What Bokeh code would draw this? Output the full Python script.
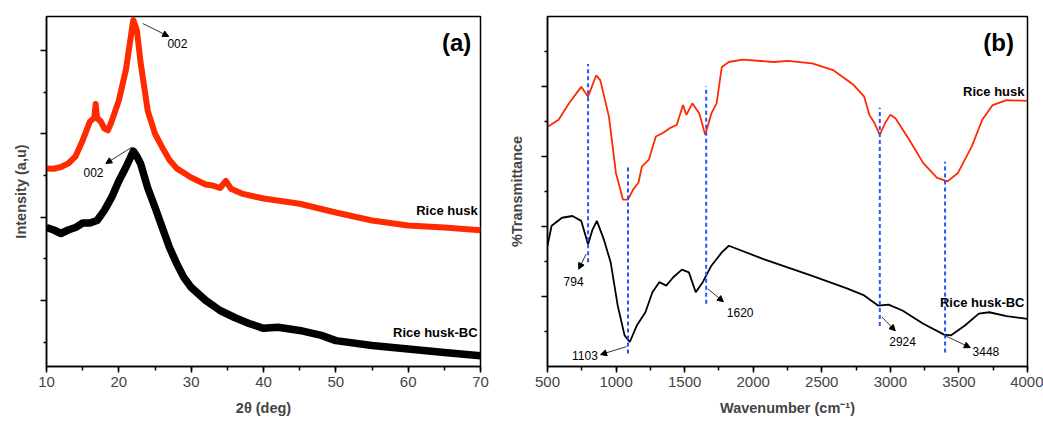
from bokeh.plotting import figure
from bokeh.models import (Range1d, FixedTicker, SingleIntervalTicker, ColumnDataSource, Arrow,
                          NormalHead, CustomJSTickFormatter)
from bokeh.layouts import row
from bokeh.core.properties import value
from bokeh.embed import file_html
from bokeh.resources import INLINE

FONT = "Liberation Sans"
RED = "#ff2a00"
BLUE = "#2255ff"

# ---------------- (a) XRD data ----------------
xrd_theta_rh = [10, 11, 12, 13, 14, 15, 16, 16.6, 16.8, 17.0, 17.5, 18, 18.5, 19, 20, 21, 21.5, 22,
                22.5, 23, 24, 25, 26, 27, 28, 30, 32, 33, 34, 34.8, 35.5, 37, 40, 45, 50, 55, 60, 65, 70]
xrd_int_rh = [56.6, 56.5, 57.0, 58.0, 60.0, 64.6, 70.0, 71.0, 75.0, 71.0, 70.0, 68.0, 67.5, 70.0, 76.0,
              85.0, 92.0, 99.0, 96.0, 87.0, 73.0, 66.5, 62.6, 59.0, 56.6, 54.0, 52.0, 51.7, 51.0, 53.0,
              50.8, 49.4, 48.0, 46.5, 44.0, 41.7, 40.3, 39.7, 38.9]
xrd_theta_bc = [10, 11, 12, 13, 14, 15, 16, 17, 18, 19, 20, 21, 22, 22.5, 23, 24, 25, 26, 27, 28, 29,
                30, 32, 34, 36, 38, 40, 42, 45, 48, 50, 55, 60, 65, 70]
xrd_int_bc = [39.7, 39.0, 38.0, 39.0, 39.7, 41.0, 41.0, 41.7, 44.6, 48.3, 53.0, 57.0, 61.5, 60.0, 58.0,
              51.0, 45.5, 39.7, 34.0, 29.4, 25.4, 22.6, 18.9, 16.0, 14.0, 12.3, 10.9, 11.2, 10.3, 8.9,
              7.4, 6.0, 5.0, 4.0, 3.1]
xrd_labels = ["002", "002"]
xrd_label_x = [28.1, 16.5]
xrd_label_y = [92.3, 55.4]
xrd_arrow_x0 = [23.3, 21.75]
xrd_arrow_y0 = [98.0, 62.6]
xrd_arrow_x1 = [26.9, 18.2]
xrd_arrow_y1 = [94.3, 58.0]
xrd_series_names = ["Rice husk", "Rice husk-BC"]
xrd_name_x = [69.6, 69.6]
xrd_name_y = [44.6, 9.7]
xrd_yticks = [18.9, 42.7, 66.5, 90.3]
xrd_yminor = [7.0, 30.8, 54.6, 78.4]

# ---------------- (b) FTIR data ----------------
ftir_wn_rh = [505, 581, 657, 746, 796, 855, 885, 948, 999, 1050, 1087, 1125, 1163, 1189, 1239, 1290,
              1341, 1391, 1442, 1488, 1513, 1556, 1607, 1650, 1695, 1733, 1771, 1822, 1923, 2151, 2252,
              2430, 2582, 2733, 2809, 2847, 2885, 2923, 2961, 2999, 3037, 3138, 3240, 3341, 3417, 3493,
              3594, 3670, 3746, 3847, 4000]
ftir_t_rh = [68.6, 70.5, 75.2, 79.9, 77.1, 83.2, 81.8, 71.4, 55.3, 47.7, 47.7, 50.6, 52.5, 57.2, 59.1,
             65.7, 66.7, 68.1, 69.0, 74.7, 71.9, 75.2, 72.3, 66.2, 72.3, 75.2, 85.6, 87.0, 87.7, 87.0,
             87.3, 86.6, 84.7, 80.4, 77.1, 71.9, 69.5, 66.2, 69.5, 71.9, 70.9, 64.8, 58.1, 53.9, 52.9,
             55.3, 62.9, 70.5, 74.7, 76.1, 75.9]
ftir_wn_bc = [500, 530, 606, 682, 746, 796, 829, 860, 910, 961, 1012, 1062, 1100, 1151, 1214, 1265,
              1315, 1366, 1417, 1480, 1531, 1581, 1632, 1695, 1771, 1822, 2075, 2430, 2683, 2809, 2910,
              2987, 3088, 3240, 3392, 3443, 3544, 3645, 3721, 3847, 4000]
ftir_t_bc = [34.5, 40.2, 42.5, 43.0, 41.6, 34.9, 39.2, 41.6, 36.4, 29.7, 17.4, 8.9, 7.0, 11.7, 15.5,
             21.2, 24.1, 23.1, 25.5, 27.7, 26.9, 21.2, 24.1, 28.8, 32.6, 34.5, 30.7, 25.9, 22.3, 20.3,
             17.4, 17.7, 16.0, 12.2, 9.1, 8.9, 11.7, 15.1, 15.5, 14.4, 13.6]
ftir_peak_wn = [796, 1087, 1657, 2923, 3399]
ftir_peak_top = [86.4, 57.1, 80.1, 73.9, 58.5]
ftir_peak_bot = [29.8, 3.7, 17.9, 11.6, 4.0]
ftir_labels = ["794", "1103", "1620", "2924", "3448"]
ftir_label_x = [690, 773, 1905, 3089, 3697]
ftir_label_y = [24.4, 3.1, 15.3, 7.1, 4.3]
ftir_arrow_x0 = [781, 1077, 1669, 2937, 3400]
ftir_arrow_y0 = [32.1, 5.7, 22.2, 14.2, 8.8]
ftir_arrow_x1 = [728, 887, 1783, 3036, 3583]
ftir_arrow_y1 = [27.8, 3.4, 18.5, 10.2, 5.4]
ftir_series_names = ["Rice husk", "Rice husk-BC"]
ftir_name_x = [3978, 3978]
ftir_name_y = [78.7, 18.2]
ftir_yticks = [20, 40, 60, 80]
ftir_yminor = [10, 30, 50, 70, 90]


def style(p, xlabel, ylabel):
    p.outline_line_color = "black"
    p.outline_line_width = 1.5
    p.grid.visible = False
    p.background_fill_color = "white"
    p.border_fill_color = "white"
    for ax in (p.xaxis, p.yaxis):
        ax.axis_line_width = 1.5
        ax.major_tick_line_width = 1.5
        ax.minor_tick_line_width = 1.5
        ax.major_tick_in = 0
        ax.minor_tick_in = 0
        ax.axis_label_text_font = FONT
        ax.axis_label_text_font_style = "bold"
        ax.axis_label_text_font_size = "14.5px"
        ax.major_label_text_font = FONT
        ax.major_label_text_font_size = "15px"
    p.xaxis.axis_label = xlabel
    p.yaxis.axis_label = ylabel
    p.xaxis.major_tick_out = 6
    p.xaxis.minor_tick_out = 4
    p.yaxis.major_tick_out = 6
    p.yaxis.minor_tick_out = 3
    p.xaxis.major_label_standoff = 4
    p.xaxis.axis_label_standoff = 10
    p.yaxis.formatter = CustomJSTickFormatter(code="return ''")
    p.yaxis.major_label_standoff = 0


# ---------------- figure (a) ----------------
pa = figure(width=500, height=424, output_backend="svg", toolbar_location=None,
            x_range=Range1d(10, 70), y_range=Range1d(0, 100),
            min_border_left=46, min_border_right=20, min_border_top=16, min_border_bottom=58)
style(pa, "2θ (deg)", "Intensity (a,u)")
pa.xaxis.ticker = SingleIntervalTicker(interval=10, num_minor_ticks=2)
pa.yaxis.ticker = FixedTicker(ticks=xrd_yticks, minor_ticks=xrd_yminor)
pa.yaxis.axis_label_standoff = 12

pa.line(xrd_theta_bc, xrd_int_bc, line_color="black", line_width=7.5, line_join="round")
pa.line(xrd_theta_rh, xrd_int_rh, line_color=RED, line_width=6, line_join="round")

pa.add_layout(Arrow(end=NormalHead(size=6, fill_color="black", line_color="black", line_width=1),
                    line_width=0.8, line_color="black",
                    source=ColumnDataSource(dict(x0=xrd_arrow_x0, y0=xrd_arrow_y0,
                                                 x1=xrd_arrow_x1, y1=xrd_arrow_y1)),
                    x_start="x0", y_start="y0", x_end="x1", y_end="y1"))
pa.text(x=xrd_label_x, y=xrd_label_y, text=xrd_labels, text_font=value(FONT),
        text_font_size="12px", text_align="center", text_baseline="middle", text_color="black")
pa.text(x=xrd_name_x, y=xrd_name_y, text=xrd_series_names, text_font=value(FONT),
        text_font_size="13px", text_font_style="bold", text_align="right",
        text_baseline="middle", text_color="black")
pa.text(x=[66.7], y=[92.5], text=["(a)"], text_font=value(FONT), text_font_size="24px",
        text_font_style="bold", text_align="center", text_baseline="middle", text_color="black")

# ---------------- figure (b) ----------------
pb = figure(width=543, height=424, output_backend="svg", toolbar_location=None,
            x_range=Range1d(500, 4000), y_range=Range1d(0, 100),
            min_border_left=47, min_border_right=16, min_border_top=16, min_border_bottom=56)
style(pb, "Wavenumber (cm⁻¹)", "%Transmittance")
pb.xaxis.ticker = SingleIntervalTicker(interval=500, num_minor_ticks=2)
pb.yaxis.ticker = FixedTicker(ticks=ftir_yticks, minor_ticks=ftir_yminor)
pb.yaxis.axis_label_standoff = 17

pb.line(ftir_wn_rh, ftir_t_rh, line_color=RED, line_width=1.8)
pb.line(ftir_wn_bc, ftir_t_bc, line_color="black", line_width=1.8)
pb.segment(x0=ftir_peak_wn, y0=ftir_peak_bot, x1=ftir_peak_wn, y1=ftir_peak_top,
           line_color=BLUE, line_width=2, line_dash="4 3")
pb.add_layout(Arrow(end=NormalHead(size=6, fill_color="black", line_color="black", line_width=1),
                    line_width=0.8, line_color="black",
                    source=ColumnDataSource(dict(x0=ftir_arrow_x0, y0=ftir_arrow_y0,
                                                 x1=ftir_arrow_x1, y1=ftir_arrow_y1)),
                    x_start="x0", y_start="y0", x_end="x1", y_end="y1"))
pb.text(x=ftir_label_x, y=ftir_label_y, text=ftir_labels, text_font=value(FONT),
        text_font_size="12px", text_align="center", text_baseline="middle", text_color="black")
pb.text(x=ftir_name_x, y=ftir_name_y, text=ftir_series_names, text_font=value(FONT),
        text_font_size="13px", text_font_style="bold", text_align="right",
        text_baseline="middle", text_color="black")
pb.text(x=[3789], y=[92.5], text=["(b)"], text_font=value(FONT), text_font_size="24px",
        text_font_style="bold", text_align="center", text_baseline="middle", text_color="black")

layout = row(pa, pb)
open("out.html", "w").write(file_html(layout, INLINE))
